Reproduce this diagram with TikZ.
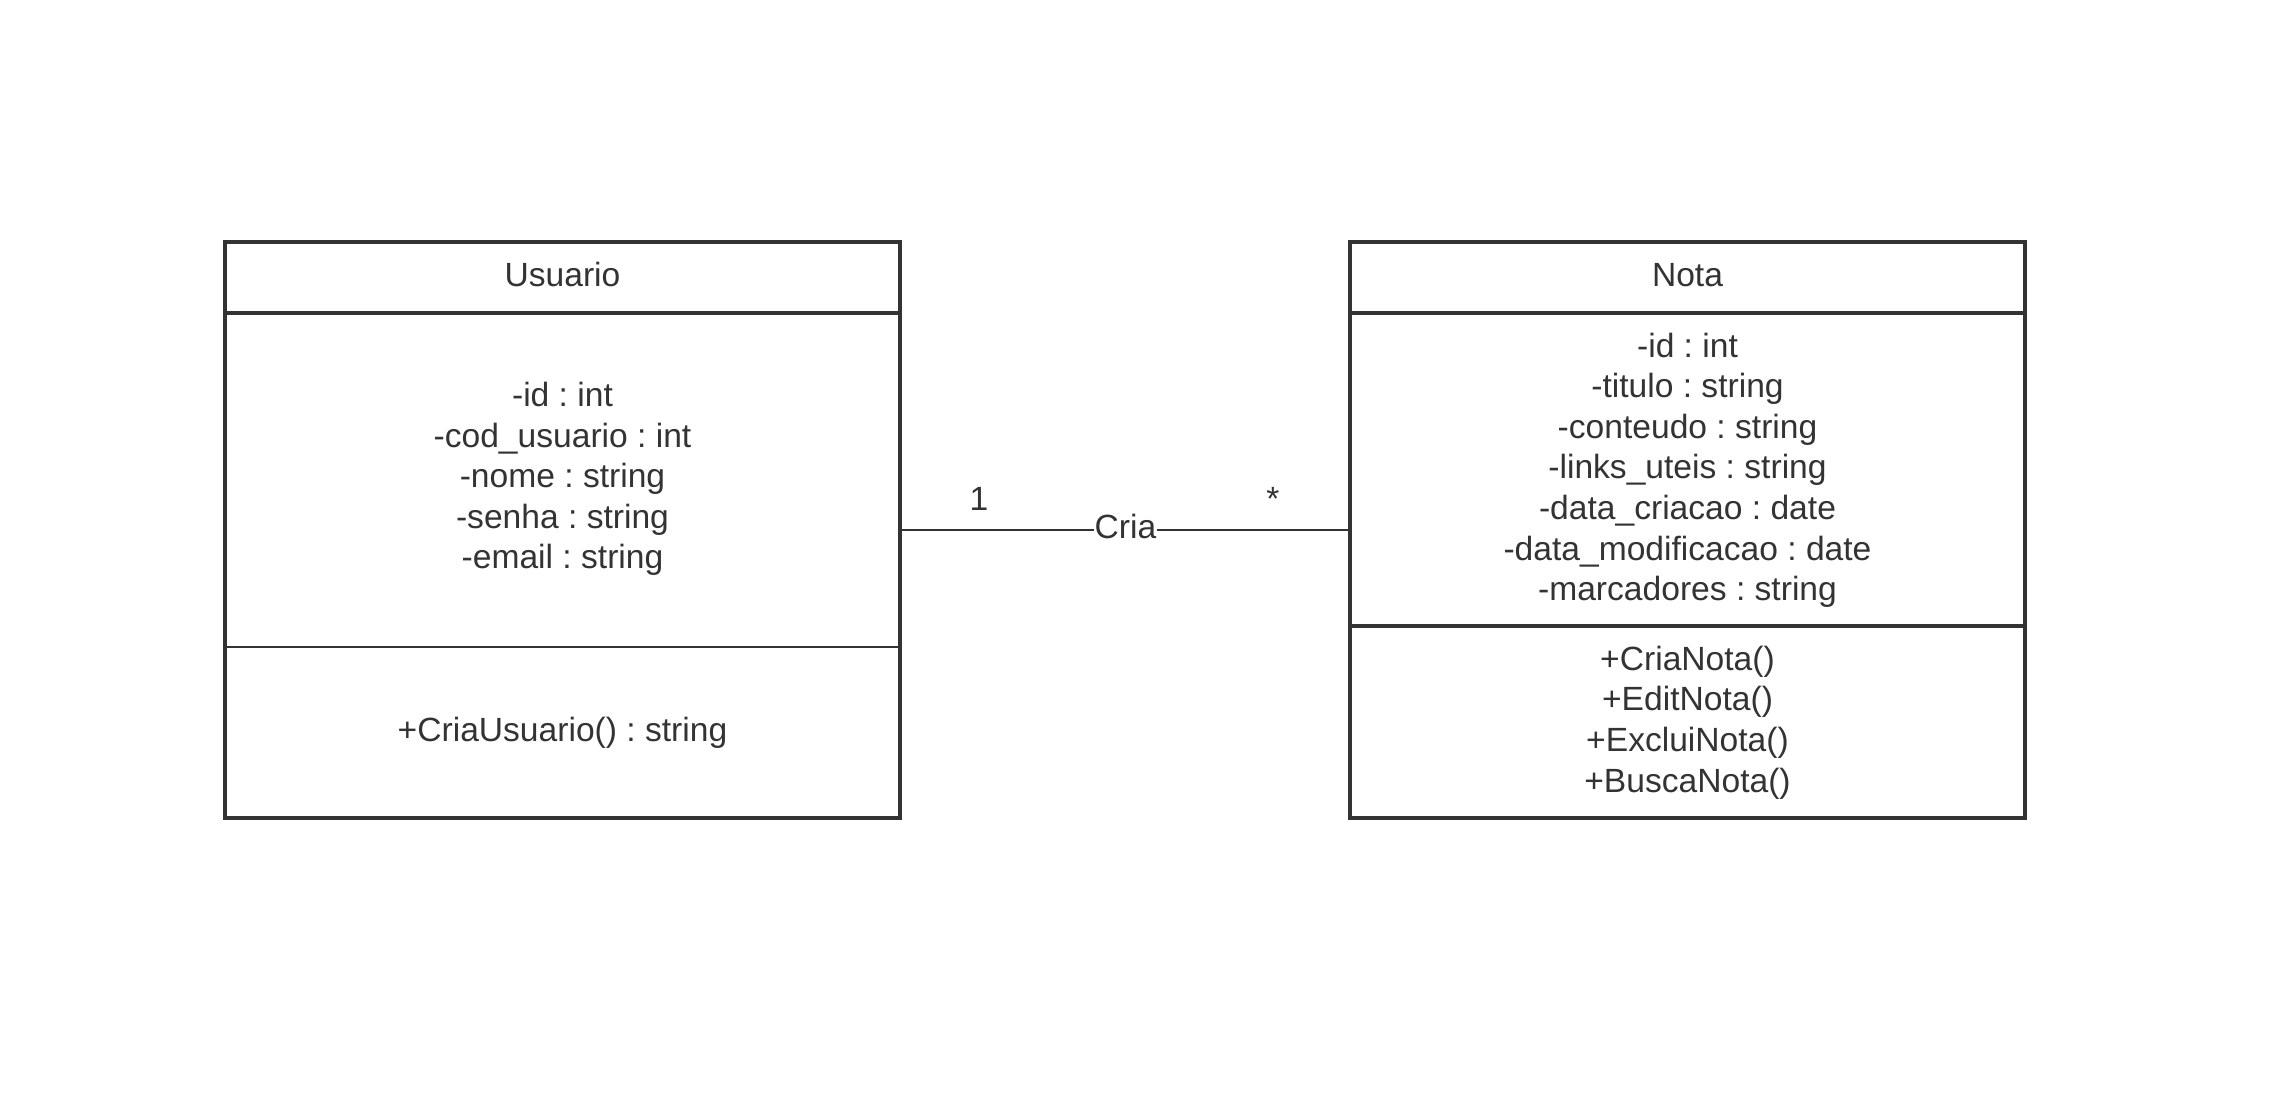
\documentclass[tikz,border=0pt]{standalone}
\usepackage{fontspec}
\setmainfont{Liberation Sans}
\frenchspacing
\definecolor{ink}{HTML}{333333}
\begin{document}
\begin{tikzpicture}[x=1pt,y=-1pt,
  classbox/.style={draw=ink,line width=4pt,rectangle,inner sep=0pt},
  thickdiv/.style={draw=ink,line width=4pt},
  thindiv/.style={draw=ink,line width=2.6pt},
  conn/.style={draw=ink,line width=2.8pt},
  txt/.style={text=ink,inner sep=0pt,anchor=base,font=\fontsize{33.6}{40.6}\selectfont},
  lbl/.style={txt,fill=white,inner xsep=1pt}]
\useasboundingbox (0,0) rectangle (2273,1110);
% Usuario
\node[classbox,minimum width=675pt,minimum height=576pt] (usu) at (562.5,530) {};
\draw[thickdiv] (usu.west |- 0,313) -- (usu.east |- 0,313);
\draw[thindiv] (usu.west |- 0,647) -- (usu.east |- 0,647);
\node[txt] (usutitle) at (562.5,286.5) {Usuario};
\node[txt] (ua1) at (562.5,406.5) {-id : int};
\node[txt] (ua2) at (562.5,447.1) {-cod\_usuario : int};
\node[txt] (ua3) at (562.5,487.7) {-nome : string};
\node[txt] (ua4) at (562.5,528.3) {-senha : string};
\node[txt] (ua5) at (562.5,568.9) {-email : string};
\node[txt] (um1) at (562.5,741.5) {+CriaUsuario() : string};
% Nota
\node[classbox,minimum width=675pt,minimum height=576pt] (nota) at (1687.5,530) {};
\draw[thickdiv] (nota.west |- 0,313) -- (nota.east |- 0,313);
\draw[thickdiv] (nota.west |- 0,626) -- (nota.east |- 0,626);
\node[txt] (notatitle) at (1687.5,286.5) {Nota};
\node[txt] (na1) at (1687.5,357.1) {-id : int};
\node[txt] (na2) at (1687.5,397.7) {-titulo : string};
\node[txt] (na3) at (1687.5,438.3) {-conteudo : string};
\node[txt] (na4) at (1687.5,478.9) {-links\_uteis : string};
\node[txt] (na5) at (1687.5,519.5) {-data\_criacao : date};
\node[txt] (na6) at (1687.5,560.1) {-data\_modificacao : date};
\node[txt] (na7) at (1687.5,600.7) {-marcadores : string};
\node[txt] (nm1) at (1687.5,670.2) {+CriaNota()};
\node[txt] (nm2) at (1687.5,710.8) {+EditNota()};
\node[txt] (nm3) at (1687.5,751.4) {+ExcluiNota()};
\node[txt] (nm4) at (1687.5,792.0) {+BuscaNota()};
% association
\draw[conn] (usu.east) -- (nota.west);
\node[lbl] (cria) at (1125.5,538) {Cria};
\node[txt] (m1) at (979,510) {1};
\node[txt] (mstar) at (1273,510) {*};
\end{tikzpicture}
\end{document}
